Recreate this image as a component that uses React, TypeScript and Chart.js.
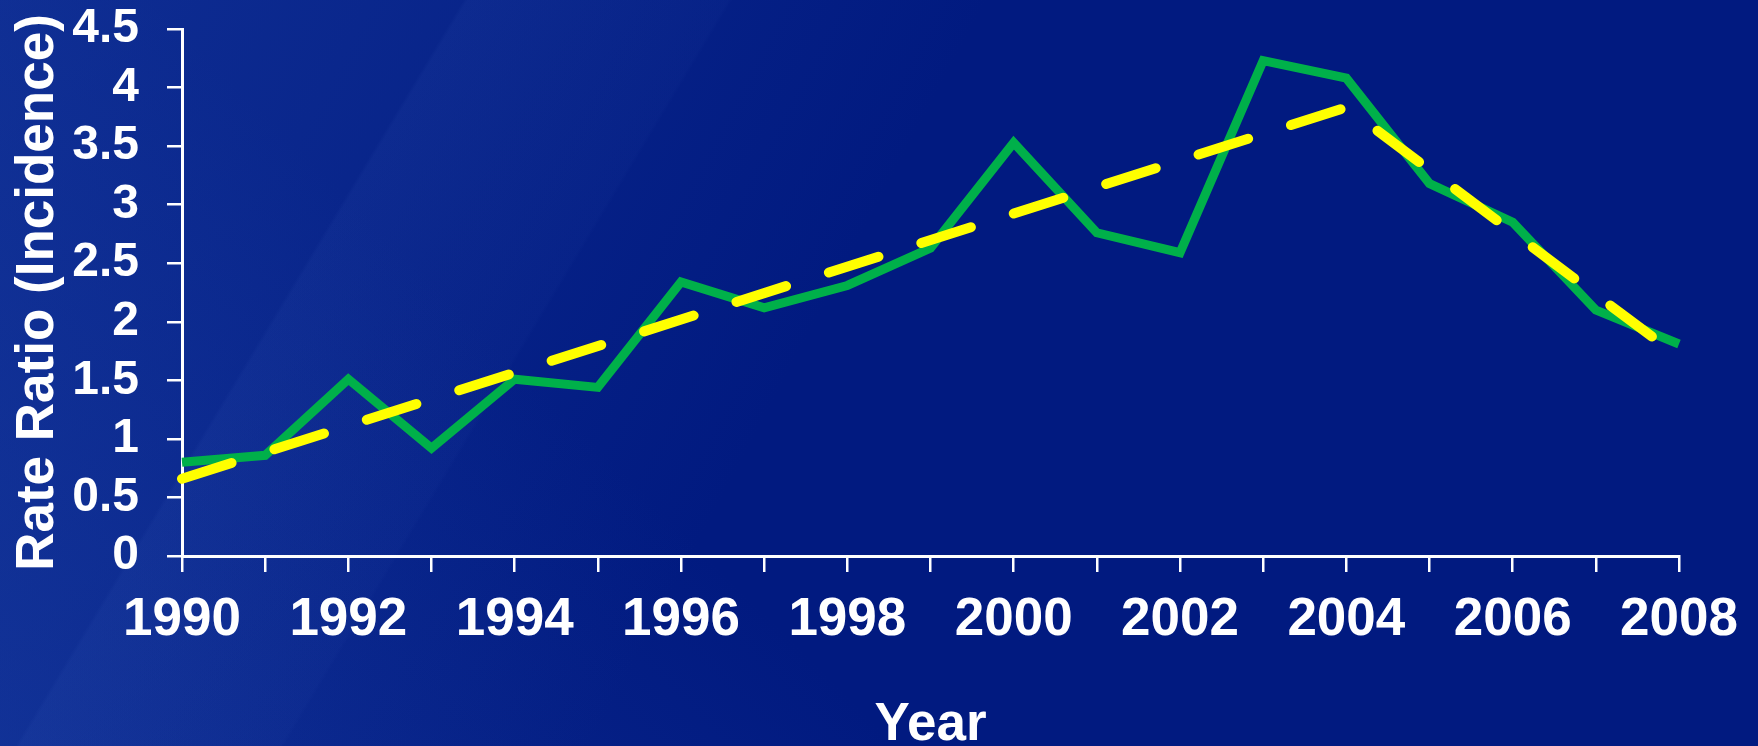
import React, { useEffect, useRef } from "react";
import { Chart, registerables } from "chart.js";

Chart.register(...registerables);

const years = [
  "1990", "1991", "1992", "1993", "1994", "1995", "1996", "1997", "1998", "1999",
  "2000", "2001", "2002", "2003", "2004", "2005", "2006", "2007", "2008",
];
const observedRR = [
  0.8, 0.86, 1.51, 0.92, 1.51, 1.44, 2.34, 2.12, 2.31, 2.63,
  3.53, 2.76, 2.59, 4.23, 4.08, 3.18, 2.85, 2.1, 1.81,
];
// joinpoint trend: only the fitted join points are known
const trendRR = [
  0.66, null, null, null, null, null, null, null, null, null,
  null, null, null, null, 3.83, null, null, null, 1.7,
];
const yMin = 0;
const yMax = 4.5;
const yStep = 0.5;
const yTitle = "Rate Ratio (Incidence)";
const xTitle = "Year";

const FONT = "'Liberation Sans', Arial, Helvetica, sans-serif";

export default function App() {
  const ref = useRef<HTMLCanvasElement | null>(null);

  useEffect(() => {
    document.body.style.margin = "0";
    document.body.style.overflow = "hidden";
    const canvas = ref.current;
    if (!canvas) return;
    const chart = new Chart(canvas, {
      type: "line",
      data: {
        labels: years,
        datasets: [
          {
            label: "Trend",
            data: trendRR,
            borderColor: "#FFFF00",
            borderWidth: 10,
            borderDash: [52, 45],
            borderCapStyle: "round",
            spanGaps: true,
            pointRadius: 0,
            tension: 0,
            order: 0,
            fill: false,
          },
          {
            label: "Observed",
            data: observedRR,
            borderColor: "#00B04A",
            borderWidth: 9,
            borderJoinStyle: "miter",
            pointRadius: 0,
            tension: 0,
            order: 1,
            fill: false,
          },
        ],
      },
      options: {
        responsive: false,
        animation: false,
        events: [],
        layout: { padding: { top: 29, right: 79, left: 0, bottom: 0 } },
        plugins: {
          legend: { display: false },
          tooltip: { enabled: false },
        },
        scales: {
          x: {
            type: "category",
            offset: false,
            afterFit: (s: any) => {
              s.height = 214;
              s.paddingLeft = 0;
              s.paddingRight = 0;
            },
            border: { display: true, color: "#FFFFFF", width: 3 },
            grid: {
              display: true,
              drawOnChartArea: false,
              drawTicks: true,
              tickLength: 16,
              color: "#FFFFFF",
              lineWidth: 2.5,
            },
            ticks: {
              autoSkip: false,
              maxRotation: 0,
              minRotation: 0,
              padding: 17,
              color: "#FFFFFF",
              font: { family: FONT, size: 53, weight: "bold" },
              callback: (_v: any, i: number) => (i % 2 === 0 ? years[i] : ""),
            },
            title: {
              display: true,
              text: xTitle,
              color: "#FFFFFF",
              font: { family: FONT, size: 53, weight: "bold" },
              padding: { top: 0, bottom: 13 },
            },
          },
          y: {
            min: yMin,
            max: yMax,
            afterFit: (s: any) => {
              s.width = 182;
              s.paddingTop = 0;
              s.paddingBottom = 0;
            },
            border: { display: true, color: "#FFFFFF", width: 3 },
            grid: {
              display: true,
              drawOnChartArea: false,
              drawTicks: true,
              tickLength: 15,
              color: "#FFFFFF",
              lineWidth: 2.5,
            },
            ticks: {
              stepSize: yStep,
              autoSkip: false,
              padding: 28,
              color: "#FFFFFF",
              font: { family: FONT, size: 48, weight: "bold" },
              callback: (v: any) => String(v),
            },
            title: {
              display: true,
              text: yTitle,
              color: "#FFFFFF",
              font: { family: FONT, size: 53, weight: "bold" },
              padding: { top: 7, bottom: 0 },
            },
          },
        },
      },
    });
    return () => chart.destroy();
  }, []);

  const bg = [
    "linear-gradient(121deg, rgba(255,255,255,0) 0%, rgba(255,255,255,0) 21%, rgba(90,130,220,0.06) 21.2%, rgba(90,130,220,0.03) 33%, rgba(255,255,255,0) 33.2%)",
    "linear-gradient(118deg, rgba(35,75,175,0.40) 0%, rgba(35,75,175,0.26) 18%, rgba(35,75,175,0.12) 32%, rgba(35,75,175,0) 46%)",
    "linear-gradient(45deg, rgba(35,75,175,0.30) 0%, rgba(35,75,175,0.10) 24%, rgba(35,75,175,0) 36%)",
    "#011A80",
  ].join(", ");

  return (
    <div
      style={{
        position: "fixed",
        left: 0,
        top: 0,
        width: 1758,
        height: 746,
        overflow: "hidden",
        background: bg,
      }}
    >
      <canvas ref={ref} width={1758} height={770} style={{ display: "block" }} />
    </div>
  );
}
